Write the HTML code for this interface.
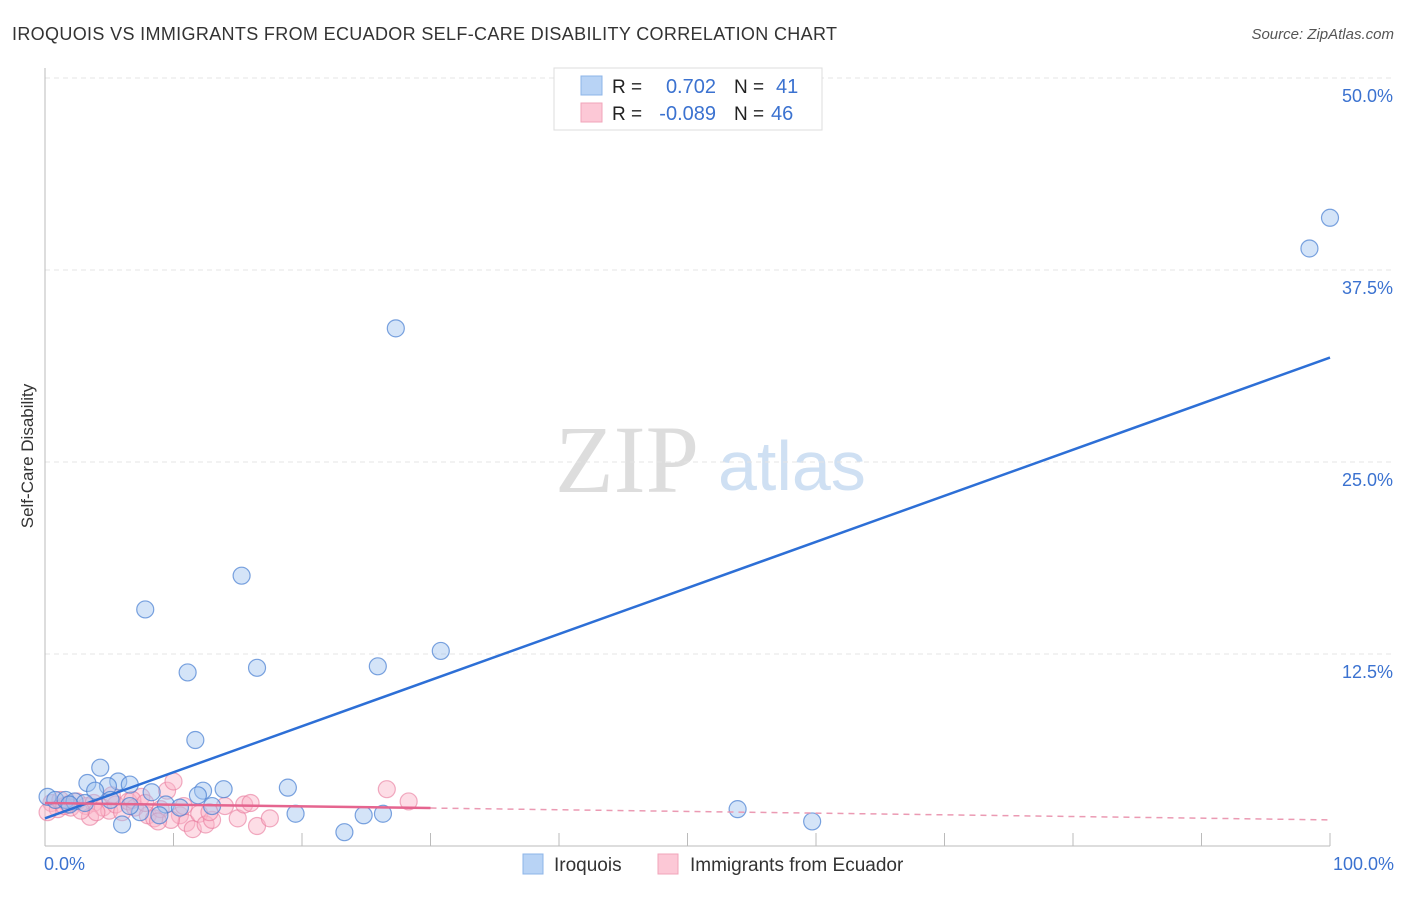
<!DOCTYPE html>
<html><head><meta charset="utf-8"><style>
body{margin:0;background:#fff;font-family:"Liberation Sans",sans-serif}
</style></head><body>
<svg width="1406" height="892" id="c" font-family="Liberation Sans, sans-serif">
<text x="12" y="40" font-size="18" fill="#333" textLength="825">IROQUOIS VS IMMIGRANTS FROM ECUADOR SELF-CARE DISABILITY CORRELATION CHART</text>
<text x="1394" y="39" font-size="15" fill="#555" text-anchor="end" font-style="italic">Source: ZipAtlas.com</text>
<text x="555" y="492" font-size="96" fill="#ddd" font-family="Liberation Serif, serif">ZIP</text>
<text x="718" y="490" font-size="70" fill="#cfe0f3">atlas</text>
<text x="33" y="456" font-size="17" fill="#333" text-anchor="middle" transform="rotate(-90 33 456)">Self-Care Disability</text>
<g id="grid"></g><g id="pts"></g><g id="lines"></g>
<g>
<rect x="554" y="68" width="268" height="62" fill="#fff" stroke="#ddd"/>
<rect x="581" y="76" width="21" height="19" fill="#b8d3f5" stroke="#8db4e8"/>
<rect x="581" y="103" width="21" height="19" fill="#fcc8d6" stroke="#f1a4ba"/>
<text x="612" y="93" font-size="19" fill="#222">R = </text><text x="716" y="93" font-size="20" fill="#3b72d0" text-anchor="end">0.702</text>
<text x="734" y="93" font-size="19" fill="#222">N = </text><text x="776" y="93" font-size="20" fill="#3b72d0">41</text>
<text x="612" y="120" font-size="19" fill="#222">R = </text><text x="716" y="120" font-size="20" fill="#3b72d0" text-anchor="end">-0.089</text>
<text x="734" y="120" font-size="19" fill="#222">N = </text><text x="771" y="120" font-size="20" fill="#3b72d0">46</text>
</g>
<g>
<rect x="523" y="854" width="20" height="20" fill="#b8d3f5" stroke="#8db4e8"/>
<text x="554" y="871" font-size="19" fill="#333">Iroquois</text>
<rect x="658" y="854" width="20" height="20" fill="#fcc8d6" stroke="#f1a4ba"/>
<text x="690" y="871" font-size="19" fill="#333">Immigrants from Ecuador</text>
</g>
</svg>
<script>
const yTicks=[12.5,25,37.5,50];
const yTickLabels=["12.5%","25.0%","37.5%","50.0%"];
const blueX=[100,98.4,27.3,15.3,7.8,16.5,25.9,30.8,11.1,11.7,4.3,3.3,5.7,6.6,4.9,3.9,18.9,13.9,12.3,8.3,9.4,13.0,19.5,6.0,23.3,24.8,26.3,53.9,59.7,0.2,0.8,1.6,2.3,3.1,10.5,8.9,7.4,11.9,5.1,1.9,6.6];
const blueY=[40.9,38.9,33.7,17.6,15.4,11.6,11.7,12.7,11.3,6.9,5.1,4.1,4.2,4.0,3.9,3.6,3.8,3.7,3.6,3.5,2.7,2.6,2.1,1.4,0.9,2.0,2.1,2.4,1.6,3.2,3.0,3.0,2.9,2.8,2.5,2.0,2.2,3.3,3.0,2.7,2.6];
const pinkX=[0.5,1.2,1.8,2.5,3.2,3.8,4.5,5.0,5.5,6.0,6.5,7.0,7.5,8.0,8.5,9.0,9.5,10.0,10.5,11.0,11.5,12.0,12.5,13.0,14.0,15.0,15.5,16.0,16.5,17.5,26.6,28.3,3.5,4.0,2.0,1.0,6.8,7.8,9.8,5.2,0.2,1.5,2.8,8.8,10.8,12.8];
const pinkY=[2.8,3.0,2.7,2.9,2.6,2.8,2.5,2.3,2.7,2.2,2.9,2.5,3.2,2.0,1.8,2.4,3.6,4.2,2.0,1.5,1.1,2.1,1.4,1.7,2.6,1.8,2.7,2.8,1.3,1.8,3.7,2.9,1.9,2.2,2.5,2.4,3.0,2.8,1.7,3.3,2.2,2.6,2.3,1.6,2.6,2.2];
const blueTrend=[1.8,31.8];
const pinkTrend=[2.8,1.7];
const pinkSolidEnd=30;
const X=v=>45+v*12.85, Y=v=>846-v*15.36;
const NS="http://www.w3.org/2000/svg";
function mk(t,a,p){const e=document.createElementNS(NS,t);for(const k in a)e.setAttribute(k,a[k]);document.getElementById(p).appendChild(e);return e;}
yTicks.forEach((t,i)=>{
 const l=mk('line',{x1:45,x2:1395,y1:Y(t),y2:Y(t),stroke:'#e4e4e4','stroke-dasharray':'5,4'},'grid');
 
 
 const tx=mk('text',{x:1393,y:Y(t)+24,'font-size':18,fill:'#3b72d0','text-anchor':'end'},'grid');
 tx.textContent=yTickLabels[i];
 
 
});
mk('line',{x1:45,x2:45,y1:68,y2:846,stroke:'#bbb'},'grid');
mk('line',{x1:45,x2:1330,y1:846,y2:846,stroke:'#bbb'},'grid');
for(let i=1;i<=10;i++){const t=mk('line',{x1:X(i*10),x2:X(i*10),y1:833,y2:846,stroke:'#bbb'},'grid');
 
 }
const xl=mk('text',{x:44,y:870,'font-size':18,fill:'#3b72d0'},'grid');xl.textContent='0.0%';


const xr=mk('text',{x:1394,y:870,'font-size':18,fill:'#3b72d0','text-anchor':'end'},'grid');xr.textContent='100.0%';


pinkX.forEach((x,i)=>{const c=mk('circle',{cx:X(x),cy:Y(pinkY[i]),r:8.5,fill:'rgba(250,180,200,0.45)',stroke:'rgba(232,120,155,0.6)','stroke-width':1.2},'pts');
 
 });
blueX.forEach((x,i)=>{const c=mk('circle',{cx:X(x),cy:Y(blueY[i]),r:8.5,fill:'rgba(160,196,240,0.45)',stroke:'rgba(70,125,210,0.7)','stroke-width':1.2},'pts');
 
 });
const bl=mk('line',{x1:X(0),y1:Y(blueTrend[0]),x2:X(100),y2:Y(blueTrend[1]),stroke:'#2d6fd6','stroke-width':2.5},'lines');


const pm=v=>pinkTrend[0]+(pinkTrend[1]-pinkTrend[0])*v/100;
const pl=mk('line',{x1:X(0),y1:Y(pm(0)),x2:X(pinkSolidEnd),y2:Y(pm(pinkSolidEnd)),stroke:'#e5658f','stroke-width':2.5},'lines');


const pd=mk('line',{x1:X(pinkSolidEnd),y1:Y(pm(pinkSolidEnd)),x2:X(100),y2:Y(pm(100)),stroke:'#eb9ab3','stroke-width':1.5,'stroke-dasharray':'6,5'},'lines');


</script>
</body></html>
